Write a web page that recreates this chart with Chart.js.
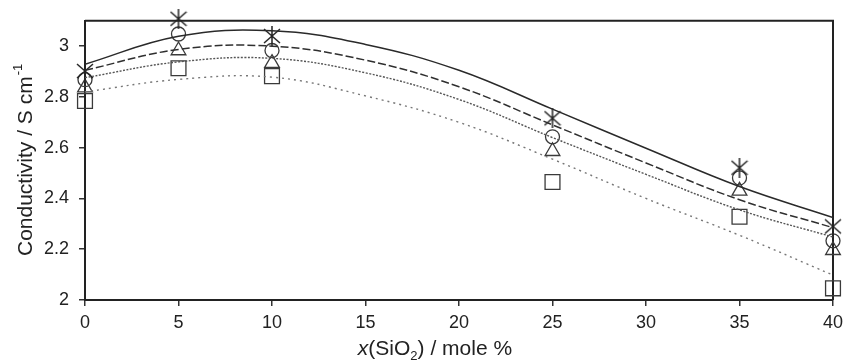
<!DOCTYPE html>
<html>
	<head>
		<meta charset="UTF-8" />
		<title>Conductivity vs SiO2 content</title>
		<style type="text/css">
			html, body { margin: 0; padding: 0; background: #fff; }
			.chartBox { width: 857px; height: 360px; }
		</style>
	</head>
	<body>
		<div class="chartBox">
			<canvas id="myChart"></canvas>
		</div>
		<script src="https://cdn.jsdelivr.net/npm/chart.js"></script>
		<script>
			//measured points, x = mole % SiO2
			const xPoints = [0, 5, 10, 25, 35, 40];
			const starVals = [2.902, 3.108, 3.040, 2.716, 2.521, 2.290];
			const circleVals = [2.868, 3.048, 2.983, 2.643, 2.481, 2.233];
			const triangleVals = [2.837, 2.983, 2.933, 2.586, 2.430, 2.196];
			const squareVals = [2.784, 2.913, 2.882, 2.465, 2.328, 2.046];

			//fitted curves, read at fixed x
			const xCurve = [0, 5, 10, 15, 20, 25, 30, 35, 40];
			const solidCurve = [2.929, 3.039, 3.061, 3.007, 2.905, 2.752, 2.598, 2.447, 2.325];
			const dashCurve = [2.905, 2.987, 3.000, 2.945, 2.840, 2.690, 2.540, 2.395, 2.285];
			const dashDotCurve = [2.876, 2.938, 2.952, 2.895, 2.790, 2.640, 2.495, 2.355, 2.248];
			const dotCurve = [2.820, 2.869, 2.878, 2.804, 2.700, 2.555, 2.400, 2.255, 2.098];

			//axis ticks
			const xTicks = [0, 5, 10, 15, 20, 25, 30, 35, 40];
			const yTicks = [2, 2.2, 2.4, 2.6, 2.8, 3];

			const ink = '#333';
			const fontFam = '"Liberation Sans", Arial, sans-serif';

			function pts(xs, ys) {
				return xs.map((x, i) => ({ x: x, y: ys[i] }));
			}

			//asterisk marker: vertical bar plus an X
			const asterisk = document.createElement('canvas');
			asterisk.width = 18;
			asterisk.height = 20;
			(function() {
				const c = asterisk.getContext('2d');
				c.strokeStyle = '#222';
				c.lineWidth = 1.5;
				c.beginPath();
				c.moveTo(9, 0); c.lineTo(9, 20);
				c.moveTo(1, 3); c.lineTo(17, 17);
				c.moveTo(17, 3); c.lineTo(1, 17);
				c.stroke();
			})();

			function curve(vals, dash, color, width) {
				return {
					type: 'line',
					data: pts(xCurve, vals),
					borderColor: color,
					borderWidth: width,
					borderDash: dash,
					pointRadius: 0,
					tension: 0.4,
					fill: false
				};
			}

			function marks(vals, style, radius) {
				return {
					type: 'scatter',
					data: pts(xPoints, vals),
					pointStyle: style,
					pointRadius: radius,
					borderColor: '#3a3a3a',
					borderWidth: 1.3,
					backgroundColor: 'rgba(0,0,0,0)',
					showLine: false,
					clip: false
				};
			}

			//frame on top and right + axis titles with sub/superscripts
			const decor = {
				id: 'decor',
				beforeDatasetsDraw(chart) {
					const ctx = chart.ctx;
					const a = chart.chartArea;
					ctx.save();
					ctx.strokeStyle = '#222';
					ctx.lineWidth = 2;
					ctx.beginPath();
					ctx.moveTo(a.left, a.top);
					ctx.lineTo(a.right, a.top);
					ctx.lineTo(a.right, a.bottom);
					ctx.stroke();
					ctx.restore();
				},
				afterDraw(chart) {
					const ctx = chart.ctx;
					const a = chart.chartArea;
					ctx.save();
					ctx.fillStyle = '#222';
					ctx.textBaseline = 'alphabetic';
					const big = '21px ' + fontFam;
					const small = '13px ' + fontFam;

					//y title
					ctx.save();
					ctx.translate(32, (a.top + a.bottom) / 2);
					ctx.rotate(-Math.PI / 2);
					ctx.font = big;
					const t1 = 'Conductivity / S cm';
					const w1 = ctx.measureText(t1).width;
					ctx.font = small;
					const w2 = ctx.measureText('-1').width;
					let x0 = -(w1 + w2) / 2;
					ctx.font = big;
					ctx.fillText(t1, x0, 0);
					ctx.font = small;
					ctx.fillText('-1', x0 + w1 + 1, -10);
					ctx.restore();

					//x title
					const parts = [
						['x', 'italic 21px ' + fontFam, 0],
						['(SiO', big, 0],
						['2', small, 5],
						[') / mole %', big, 0]
					];
					let total = 0;
					parts.forEach(p => { ctx.font = p[1]; total += ctx.measureText(p[0]).width; });
					let px = 435 - total / 2;
					parts.forEach(p => {
						ctx.font = p[1];
						ctx.fillText(p[0], px, 355 + p[2]);
						px += ctx.measureText(p[0]).width;
					});
					ctx.restore();
				}
			};

			const config = {
				data: {
					datasets: [
						curve(solidCurve, [], '#2a2a2a', 1.5),
						curve(dashCurve, [8, 3], '#2f2f2f', 1.5),
						curve(dashDotCurve, [2, 1.5], '#555', 1.4),
						curve(dotCurve, [2, 4], '#777', 1.4),
						marks(starVals, asterisk, 9),
						marks(circleVals, 'circle', 7),
						marks(triangleVals, 'triangle', 8.5),
						marks(squareVals, 'rect', 10.5)
					]
				},
				options: {
					responsive: true,
					maintainAspectRatio: false,
					animation: false,
					layout: { padding: { top: 20, right: 24, left: 0, bottom: 0 } },
					plugins: {
						legend: { display: false },
						tooltip: { enabled: false }
					},
					scales: {
						x: {
							type: 'linear',
							min: 0,
							max: 40,
							afterFit: s => { s.height = 60; },
							afterBuildTicks: s => { s.ticks = xTicks.map(v => ({ value: v })); },
							grid: { drawOnChartArea: false, drawTicks: true, tickLength: 6, tickColor: ink, lineWidth: 1.5 },
							border: { color: '#222', width: 2 },
							ticks: {
								padding: 6,
								color: '#222',
								font: { family: fontFam, size: 18 },
								maxRotation: 0,
								callback: v => String(v)
							}
						},
						y: {
							type: 'linear',
							min: 2,
							max: 3.1,
							afterFit: s => { s.width = 85; },
							afterBuildTicks: s => { s.ticks = yTicks.map(v => ({ value: v })); },
							grid: { drawOnChartArea: false, drawTicks: true, tickLength: 6, tickColor: ink, lineWidth: 1.5 },
							border: { color: '#222', width: 2 },
							ticks: {
								padding: 10,
								color: '#222',
								font: { family: fontFam, size: 18 },
								callback: v => String(+v.toFixed(1))
							}
						}
					}
				},
				plugins: [decor]
			};

			const myChart = new Chart(document.getElementById('myChart'), config);
		</script>
	</body>
</html>
